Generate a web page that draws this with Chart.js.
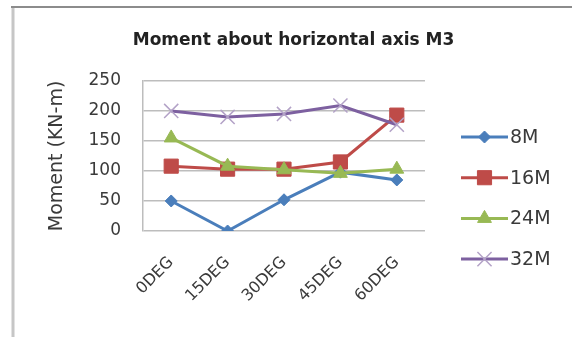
<!DOCTYPE html>
<html>
<head>
<meta charset="utf-8">
<title>Moment about horizontal axis M3</title>
<script src="https://cdn.jsdelivr.net/npm/chart.js@4/dist/chart.umd.min.js"></script>
<style>
  html, body { margin: 0; padding: 0; background: #fff; }
  #wrap { position: relative; width: 572px; height: 337px; }
</style>
</head>
<body>
<div id="wrap"><canvas id="momentChart" width="572" height="337"></canvas></div>
<script>
const categories = ['0DEG', '15DEG', '30DEG', '45DEG', '60DEG'];

const m8 = [50, 0, 52, 98, 85];
const m16 = [108, 103, 103, 115, 193];
const m24 = [155, 108, 102, 96, 103];
const m32 = [200, 190, 195, 209, 177];

const yTicks = [0, 50, 100, 150, 200, 250];

const textColor = '#3a3a3a';
const gridColor = '#bdbdbd';

// frame around the chart (only top and left edges are visible)
const chartFrame = {
  id: 'chartFrame',
  beforeDraw(chart) {
    const ctx = chart.ctx;
    ctx.save();
    ctx.fillStyle = '#fff';
    ctx.fillRect(0, 0, chart.width, chart.height);
    ctx.strokeStyle = '#c6c6c6';
    ctx.lineWidth = 3;
    ctx.beginPath();
    ctx.moveTo(13, 7);
    ctx.lineTo(13, chart.height);
    ctx.stroke();
    ctx.strokeStyle = '#8c8c8c';
    ctx.lineWidth = 2;
    ctx.beginPath();
    ctx.moveTo(11, 7);
    ctx.lineTo(chart.width, 7);
    ctx.stroke();
    ctx.restore();
  }
};

// legend on the right: line + marker + label, reserves its own layout box
const sideLegend = {
  id: 'sideLegend',
  beforeInit(chart) {
    const box = {
      position: 'right',
      weight: 10,
      fullSize: false,
      options: {},
      isHorizontal: () => false,
      update(maxWidth, maxHeight) {
        this.width = 147;
        this.height = maxHeight;
      },
      draw() {
        const ctx = chart.ctx;
        const x0 = chart.chartArea.right + 36;
        ctx.save();
        chart.data.datasets.forEach((ds, i) => {
          const y = 137 + i * 40.7;
          ctx.strokeStyle = ds.borderColor;
          ctx.lineWidth = 3;
          ctx.beginPath();
          ctx.moveTo(x0, y);
          ctx.lineTo(x0 + 47, y);
          ctx.stroke();
          ctx.fillStyle = ds.pointBackgroundColor;
          ctx.strokeStyle = ds.pointBorderColor;
          ctx.lineWidth = ds.pointBorderWidth;
          Chart.helpers.drawPoint(ctx, {
            pointStyle: ds.pointStyle,
            radius: ds.pointRadius,
            rotation: 0,
            borderWidth: ds.pointBorderWidth
          }, x0 + 23.5, y);
          ctx.fillStyle = textColor;
          ctx.font = '19px "DejaVu Sans"';
          ctx.textBaseline = 'middle';
          ctx.textAlign = 'left';
          ctx.fillText(ds.label, x0 + 49, y + 1);
        });
        ctx.restore();
      }
    };
    Chart.layouts.addBox(chart, box);
  }
};

function series(label, data, color, markerColor, style, radius, order) {
  return {
    label: label,
    data: data,
    borderColor: color,
    backgroundColor: color,
    borderWidth: 3,
    pointStyle: style,
    pointRadius: radius,
    pointHoverRadius: radius,
    pointBackgroundColor: markerColor,
    pointBorderColor: markerColor,
    pointBorderWidth: style === 'crossRot' ? 1.5 : 1,
    tension: 0,
    order: order
  };
}

new Chart(document.getElementById('momentChart'), {
  type: 'line',
  data: {
    labels: categories,
    datasets: [
      series('8M', m8, '#4a7ebb', '#4a7ebb', 'rectRot', 6, 4),
      series('16M', m16, '#be4b48', '#be4b48', 'rect', 10, 3),
      series('24M', m24, '#98b954', '#98b954', 'triangle', 8, 2),
      series('32M', m32, '#7d60a0', '#b3a2c7', 'crossRot', 10, 1)
    ]
  },
  options: {
    responsive: false,
    animation: false,
    layout: { padding: { left: 15, right: 0, top: 0, bottom: 0 } },
    plugins: {
      legend: { display: false },
      tooltip: { enabled: false },
      title: {
        display: true,
        text: 'Moment about horizontal axis M3',
        color: '#222',
        font: { family: '"DejaVu Sans"', size: 17, weight: 'bold', lineHeight: 1.2 },
        padding: { top: 30, bottom: 30.5 }
      }
    },
    scales: {
      x: {
        grid: { display: false, drawTicks: false },
        border: { display: false },
        offset: true,
        ticks: {
          color: textColor,
          font: { family: '"DejaVu Sans"', size: 16 },
          minRotation: 45,
          maxRotation: 45,
          padding: 22,
          autoSkip: false
        },
        afterFit(scale) { scale.height = 106; }
      },
      y: {
        min: 0,
        max: 250,
        afterBuildTicks(scale) { scale.ticks = yTicks.map(v => ({ value: v })); },
        grid: { color: gridColor, lineWidth: 1.5, drawTicks: false },
        border: { display: true, color: gridColor, width: 1.5 },
        ticks: {
          color: textColor,
          font: { family: '"DejaVu Sans"', size: 17 },
          padding: 22
        },
        title: {
          display: true,
          text: 'Moment (KN-m)',
          color: textColor,
          font: { family: '"DejaVu Sans"', size: 19 },
          padding: { top: 31, bottom: 0 }
        },
        afterFit(scale) { scale.width = 128; }
      }
    }
  },
  plugins: [chartFrame, sideLegend]
});
</script>
</body>
</html>
